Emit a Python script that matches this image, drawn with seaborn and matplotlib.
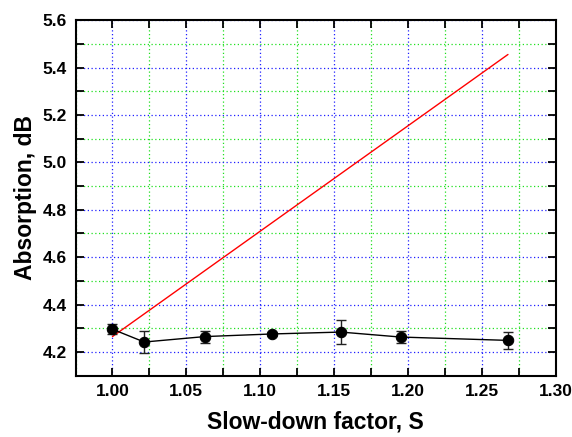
import matplotlib
matplotlib.use("Agg")
import matplotlib.pyplot as plt
import seaborn as sns
import pandas as pd
from matplotlib.ticker import MultipleLocator, FormatStrFormatter

# Measured absorption vs slow-down factor
slowdown = [1.000, 1.0215, 1.0626, 1.108, 1.1546, 1.195, 1.2674]
absorption = [4.296, 4.242, 4.265, 4.276, 4.284, 4.263, 4.249]
abs_err = [0.020, 0.048, 0.025, 0.010, 0.050, 0.024, 0.037]

# Expected absorption (linear scaling with S)
model_s = [1.000, 1.2677]
model_abs = [4.265, 5.455]

sns.set_theme(style="white")
plt.rcParams["font.family"] = ["Liberation Sans", "DejaVu Sans"]
plt.rcParams["text.color"] = "black"
plt.rcParams["axes.labelcolor"] = "black"
plt.rcParams["xtick.color"] = "black"
plt.rcParams["ytick.color"] = "black"

meas = pd.DataFrame({"S": slowdown, "A": absorption})
model = pd.DataFrame({"S": model_s, "A": model_abs})

fig = plt.figure(figsize=(5.72, 4.37), dpi=100)
ax = fig.add_axes([0.132, 0.1403, 0.8395, 0.8137])

ax.set_xlim(0.975, 1.30)
ax.set_ylim(4.1, 5.6)
ax.xaxis.set_major_locator(MultipleLocator(0.05))
ax.xaxis.set_minor_locator(MultipleLocator(0.025))
ax.yaxis.set_major_locator(MultipleLocator(0.2))
ax.yaxis.set_minor_locator(MultipleLocator(0.1))
ax.xaxis.set_major_formatter(FormatStrFormatter("%.2f"))
ax.yaxis.set_major_formatter(FormatStrFormatter("%.1f"))

ax.grid(True, which="major", color="#2020ff", linestyle=(0, (1, 2)), linewidth=0.9)
ax.grid(True, which="minor", color="#20e020", linestyle=(0, (1, 2)), linewidth=0.9)
ax.set_axisbelow(True)

sns.lineplot(data=model, x="S", y="A", ax=ax, color="#ff0000", linewidth=1.0, zorder=3)
ax.errorbar(slowdown, absorption, yerr=abs_err, fmt="none", ecolor="#222222",
            elinewidth=1.0, capsize=3.5, capthick=1.0, zorder=4)
sns.lineplot(data=meas, x="S", y="A", ax=ax, color="black", linewidth=1.0,
             marker="o", markersize=7.5, markeredgecolor="black", zorder=5)

for side in ["left", "right", "top", "bottom"]:
    ax.spines[side].set_visible(True)
    ax.spines[side].set_color("black")
    ax.spines[side].set_linewidth(1.5)

ax.tick_params(which="both", direction="in", top=True, right=True, left=True, bottom=True,
               length=6, width=1.3, color="black")
ax.tick_params(which="major", labelsize=12.5, pad=6, labelcolor="black")
for lbl in ax.get_xticklabels() + ax.get_yticklabels():
    lbl.set_fontweight("bold")

ax.set_xlabel("Slow-down factor, S", fontsize=16.5, fontweight="bold", labelpad=8, color="black")
ax.set_ylabel("Absorption, dB", fontsize=16.5, fontweight="bold", labelpad=4, color="black")

fig.savefig("out.png", dpi=100)
